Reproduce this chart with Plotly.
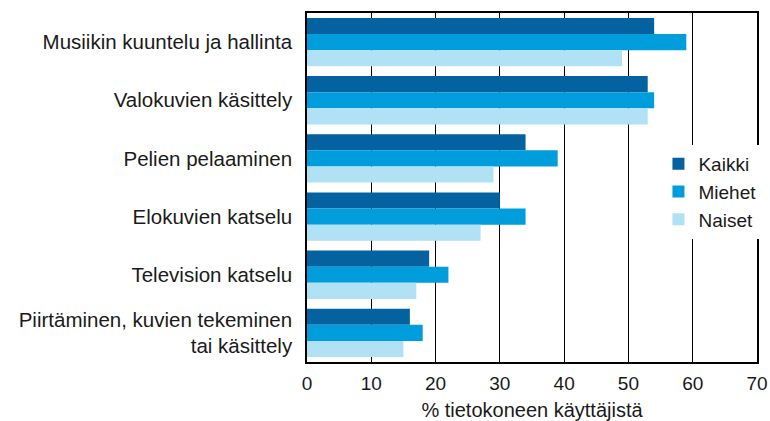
import plotly.graph_objects as go

categories = [
    "Musiikin kuuntelu ja hallinta",
    "Valokuvien käsittely",
    "Pelien pelaaminen",
    "Elokuvien katselu",
    "Television katselu",
    "Piirtäminen, kuvien tekeminen<br>tai käsittely",
]
kaikki = [54, 53, 34, 30, 19, 16]
miehet = [59, 54, 39, 34, 22, 18]
naiset = [49, 53, 29, 27, 17, 15]
series_names = ["Kaikki", "Miehet", "Naiset"]
colors = ["#03629f", "#009ddc", "#b1e1f5"]
x_ticks = [0, 10, 20, 30, 40, 50, 60, 70]
x_title = "% tietokoneen käyttäjistä"

FONT = "Liberation Sans, Arial, sans-serif"

fig = go.Figure()
for name, vals, col in zip(series_names, [kaikki, miehet, naiset], colors):
    fig.add_trace(go.Bar(
        y=categories, x=vals, name=name, orientation="h",
        marker=dict(color=col, line=dict(width=0)),
    ))

fig.update_layout(
    width=770, height=421,
    margin=dict(l=307, r=13, t=13, b=59, autoexpand=False),
    paper_bgcolor="white", plot_bgcolor="white",
    barmode="group", bargap=0.17, bargroupgap=0,
    font=dict(family=FONT, size=20, color="#1a1a1a"),
    showlegend=True,
    legend=dict(
        x=0.781, y=0.622, xanchor="left", yanchor="top",
        bgcolor="white", borderwidth=0, traceorder="normal",
        font=dict(size=19, family=FONT, color="#1a1a1a"),
        itemwidth=30, tracegroupgap=0,
    ),
    xaxis=dict(
        range=[0, 70], tickvals=x_ticks, ticktext=[str(t) for t in x_ticks],
        showgrid=True, gridcolor="black", gridwidth=1,
        showline=True, linecolor="black", linewidth=1.5, mirror=True,
        ticks="", zeroline=False, automargin=False, ticklabelstandoff=3,
        tickfont=dict(size=19, family=FONT, color="#1a1a1a"),
        title=dict(text=x_title, font=dict(size=20, family=FONT, color="#1a1a1a"), standoff=14),
    ),
    yaxis=dict(
        autorange="reversed", showgrid=False, automargin=False,
        showline=True, linecolor="black", linewidth=1.5, mirror=True,
        ticks="", ticklabelstandoff=9,
        tickfont=dict(size=20.5, family=FONT, color="#1a1a1a"),
    ),
)

fig.write_html(
    "out.html",
    config={"displayModeBar": False},
    post_script="document.body.style.margin='0';document.body.style.overflow='hidden';",
)
